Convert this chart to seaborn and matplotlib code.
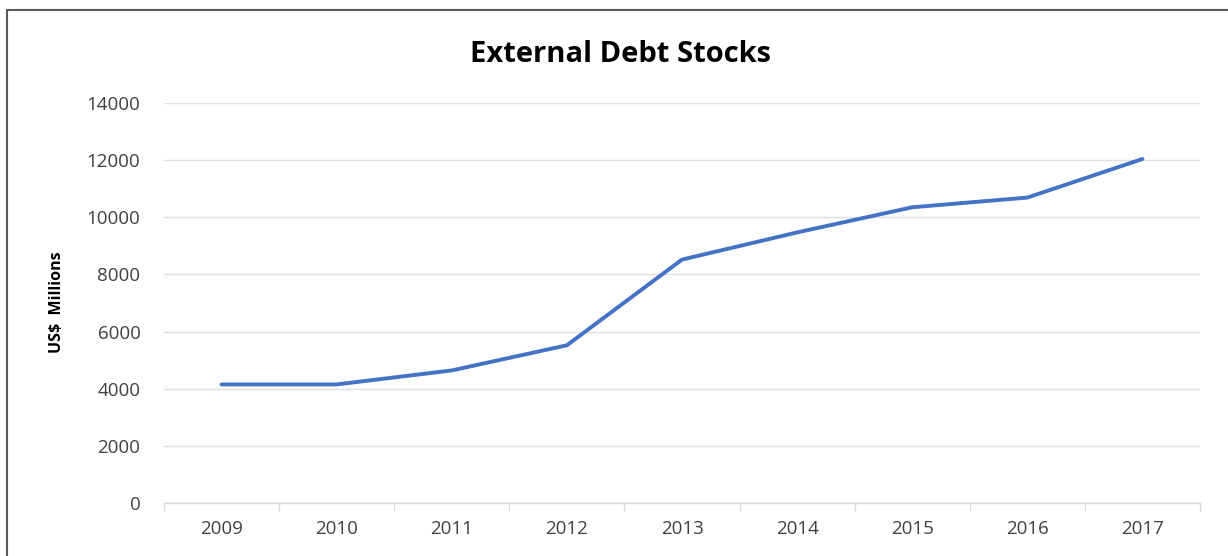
import numpy as np
import pandas as pd
import matplotlib
matplotlib.use("Agg")
import matplotlib.pyplot as plt
import seaborn as sns
from matplotlib.patches import Rectangle

years = ["2009", "2010", "2011", "2012", "2013", "2014", "2015", "2016", "2017"]
debt = [4150, 4150, 4640, 5520, 8520, 9470, 10350, 10690, 12040]
yticks = [0, 2000, 4000, 6000, 8000, 10000, 12000, 14000]

sns.set_theme(style="white")
plt.rcParams["font.family"] = ["Open Sans", "DejaVu Sans"]

df = pd.DataFrame({"pos": np.arange(len(years)), "val": debt})

fig = plt.figure(figsize=(12.28, 5.56), dpi=100)
ax = fig.add_axes([164 / 1228, 1 - 503 / 556, (1200 - 164) / 1228, 400 / 556])

sns.lineplot(data=df, x="pos", y="val", ax=ax, color="#4472C4", linewidth=2.8)

ax.set_xlim(-0.5, len(years) - 0.5)
ax.set_ylim(0, 14000)
ax.set_yticks(yticks)
ax.set_yticklabels([str(v) for v in yticks])
ax.set_xticks(np.arange(len(years)))
ax.set_xticklabels(years)
ax.set_xticks(np.arange(len(years) + 1) - 0.5, minor=True)
ax.tick_params(axis="x", which="major", length=0, pad=12, labelsize=13.5, labelcolor="#404040")
ax.tick_params(axis="x", which="minor", length=6, width=1, color="#d9d9d9", direction="out", bottom=True)
ax.tick_params(axis="y", length=0, pad=17, labelsize=13.5, labelcolor="#404040")

for sp in ["top", "right", "left"]:
    ax.spines[sp].set_visible(False)
ax.spines["bottom"].set_color("#d9d9d9")
ax.spines["bottom"].set_linewidth(1)
ax.grid(axis="y", color="#e0e0e0", linewidth=1)
ax.grid(axis="x", visible=False)
ax.set_axisbelow(True)

ax.set_xlabel("")
ax.set_ylabel("US$  Millions", fontsize=11.5, fontweight="bold", color="#000000")
ax.yaxis.set_label_coords((65 - 164) / 1036, (503 - 302) / 400)

fig.text(620 / 1228, 1 - 54 / 556, "External Debt Stocks", ha="center", va="center",
         fontsize=21, fontweight="bold", color="#000000")

fig.patches.append(Rectangle((7 / 1228, -0.05), 1.2, 1 - 10 / 556 + 0.05,
                             transform=fig.transFigure, fill=False,
                             edgecolor="#595959", linewidth=1.5))

fig.savefig("out.png", dpi=100)
